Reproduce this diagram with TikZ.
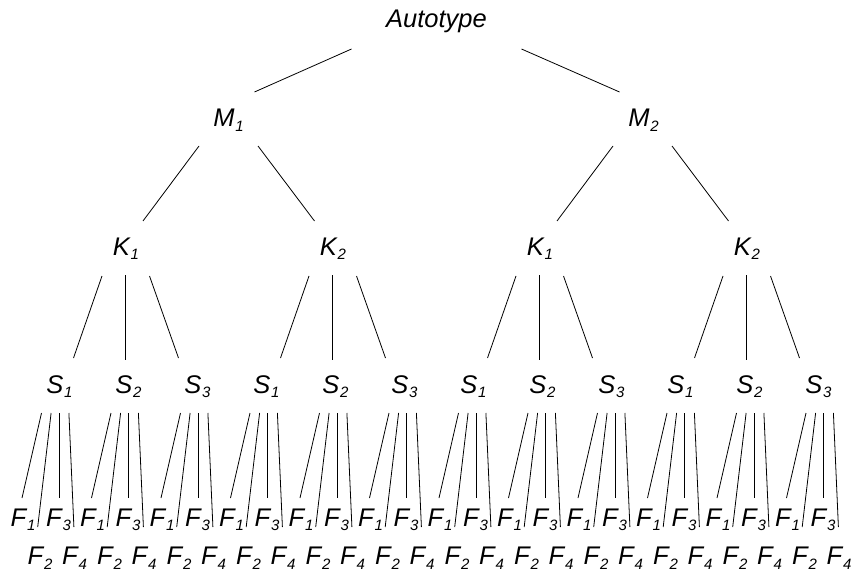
\documentclass[tikz,border=0pt]{standalone}
\usepackage{fontspec}
\setmainfont{Liberation Sans}
\usetikzlibrary{calc}

% letter with a small lowered index
\newcommand{\lab}[2]{#1\kern0.8pt\raisebox{-4.5pt}{\fontsize{15}{15}\selectfont #2}}

\tikzset{
  lbl/.style={inner sep=0pt, anchor=base, font=\fontsize{25.5}{26}\selectfont\itshape},
  edge/.style={line width=0.8pt, black}
}

\begin{document}
\begin{tikzpicture}[x=1pt,y=-1pt]
\useasboundingbox (0,0) rectangle (856,572);

% root and first level
\node[lbl] (A) at (436.5,28) {Autotype};
\node[lbl] (M1) at (228.5,127) {\lab{M}{1}};
\node[lbl] (M2) at (643.5,127) {\lab{M}{2}};
\draw[edge] ($(A.base)+(-85,21)$) -- ($(M1.base)+(26,-35)$);
\draw[edge] ($(A.base)+(85,21)$) -- ($(M2.base)+(-24,-35)$);

% second level
\foreach \g in {0,...,3} {
  \pgfmathsetmacro\kx{126+207*\g}
  \pgfmathtruncatemacro\kn{mod(\g,2)+1}
  \node[lbl] (K\g) at (\kx,255) {\lab{K}{\kn}};
}
\draw[edge] ($(M1.base)+(-29.5,19)$) -- ($(K0.base)+(17,-34)$);
\draw[edge] ($(M1.base)+(29.5,19)$) -- ($(K1.base)+(-18.5,-34)$);
\draw[edge] ($(M2.base)+(-30.5,19)$) -- ($(K2.base)+(17,-34)$);
\draw[edge] ($(M2.base)+(28.5,19)$) -- ($(K3.base)+(-18.5,-34)$);

% third level and leaves
\foreach \i in {0,...,11} {
  \pgfmathsetmacro\sx{59.5+69*\i}
  \pgfmathtruncatemacro\sn{mod(\i,3)+1}
  \node[lbl] (S\i) at (\sx,393) {\lab{S}{\sn}};
  \pgfmathsetmacro\fx{58.5+69.5*\i}
  \pgfmathsetmacro\d{\fx-\sx}
  \node[lbl] (F\i-1) at (\fx-35.5,526) {\lab{F}{1}};
  \node[lbl] (F\i-2) at (\fx-18.5,564.5) {\lab{F}{2}};
  \node[lbl] (F\i-3) at (\fx,526) {\lab{F}{3}};
  \node[lbl] (F\i-4) at (\fx+16,564.5) {\lab{F}{4}};
  \draw[edge] ($(S\i.base)+(\d-17,20)$) -- ($(F\i-1.base)+(-1,-28)$);
  \draw[edge] ($(S\i.base)+(\d-7.4,20)$) -- ($(F\i-2.base)+(-2.3,-37.5)$);
  \draw[edge] ($(S\i.base)+(\d+0.5,20)$) -- ($(F\i-3.base)+(0.5,-28)$);
  \draw[edge] ($(S\i.base)+(\d+10.4,20)$) -- ($(F\i-4.base)+(-0.6,-37.5)$);
}

% connectors from second to third level
\foreach \g in {0,...,3} {
  \pgfmathtruncatemacro\a{3*\g}
  \pgfmathtruncatemacro\b{3*\g+1}
  \pgfmathtruncatemacro\c{3*\g+2}
  \draw[edge] ($(K\g.base)+(-24,21)$) -- ($(S\a.base)+(14,-35)$);
  \draw[edge] ($(K\g.base)+(-0.5,20)$) -- ($(S\b.base)+(-3,-33)$);
  \draw[edge] ($(K\g.base)+(23.5,21)$) -- ($(S\c.base)+(-19,-35)$);
}
\end{tikzpicture}
\end{document}
